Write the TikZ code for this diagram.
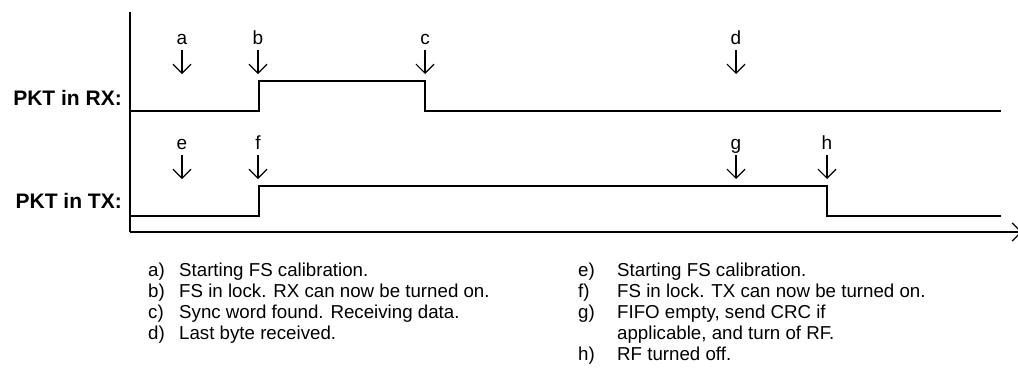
\documentclass[tikz,border=0pt]{standalone}
\usepackage{fontspec}
\setmainfont{Liberation Sans}
\usetikzlibrary{positioning}
\usetikzlibrary{arrows.meta}
\usetikzlibrary{calc}
\tikzset{
  eje/.style={line width=1.5pt, draw=black},
  senal/.style={line width=1.8pt, draw=black, line join=miter},
  marca/.style={
    inner sep=0pt, anchor=base, text height=14pt, text depth=6pt,
    font=\fontsize{19}{22}\selectfont
  },
  flecha/.style={-{Straight Barb[length=9pt, width=18pt, line width=1.2pt]}, line width=1.2pt},
  etiqueta/.style={inner sep=0pt, anchor=base east, font=\fontsize{21}{24}\selectfont\bfseries},
  leyenda/.style={inner sep=0pt, anchor=north west, align=left, font=\fontsize{18.7}{21}\selectfont}
}

\begin{document}
\begin{tikzpicture}[x=1pt, y=-1pt]
  \useasboundingbox (0,0) rectangle (1018,370);
  \coordinate (ejeTop) at (130,12);
  \coordinate (origen) at (130,232);
  \coordinate (ejeFin) at (1022,232);
  \draw[eje] (ejeTop) -- (origen);
  \draw[eje, -{Straight Barb[length=9pt, width=18pt, line width=1.2pt]}] (origen) -- (ejeFin);

  \node[etiqueta] (rx) at (122,105) {PKT in RX:};
  \node[etiqueta] (tx) at (122,208) {PKT in TX:};

  \draw[senal] (131,111) -- (259,111) -- (259,81) -- (425,81) -- (425,111) -- (1001,111);
  \draw[senal] (131,216) -- (259,216) -- (259,186) -- (827,186) -- (827,216) -- (1001,216);

  \foreach \n/\x in {a/182, b/258, c/425, d/736} {
    \node[marca] (m\n) at (\x,44) {\n};
    \coordinate (p\n) at (\x,74);
    \draw[flecha] (m\n) -- (p\n);
  }
  \foreach \n/\x in {e/182, f/258, g/736, h/827} {
    \node[marca] (m\n) at (\x,149) {\n};
    \coordinate (p\n) at (\x,179);
    \draw[flecha] (m\n) -- (p\n);
  }

  \node[leyenda] (leyRX) at (148,261.3) {\begin{tabular}{@{}p{31pt}@{}l@{}}
    a) & Starting FS calibration.\\
    b) & FS in lock. RX can now be turned on.\\
    c) & Sync word found. Receiving data.\\
    d) & Last byte received.
  \end{tabular}};
  \node[leyenda] (leyTX) at (578,261.3) {\begin{tabular}{@{}p{39pt}@{}l@{}}
    e) & Starting FS calibration.\\
    f) & FS in lock. TX can now be turned on.\\
    g) & FIFO empty, send CRC if\\
       & applicable, and turn of RF.\\
    h) & RF turned off.
  \end{tabular}};
\end{tikzpicture}
\end{document}
